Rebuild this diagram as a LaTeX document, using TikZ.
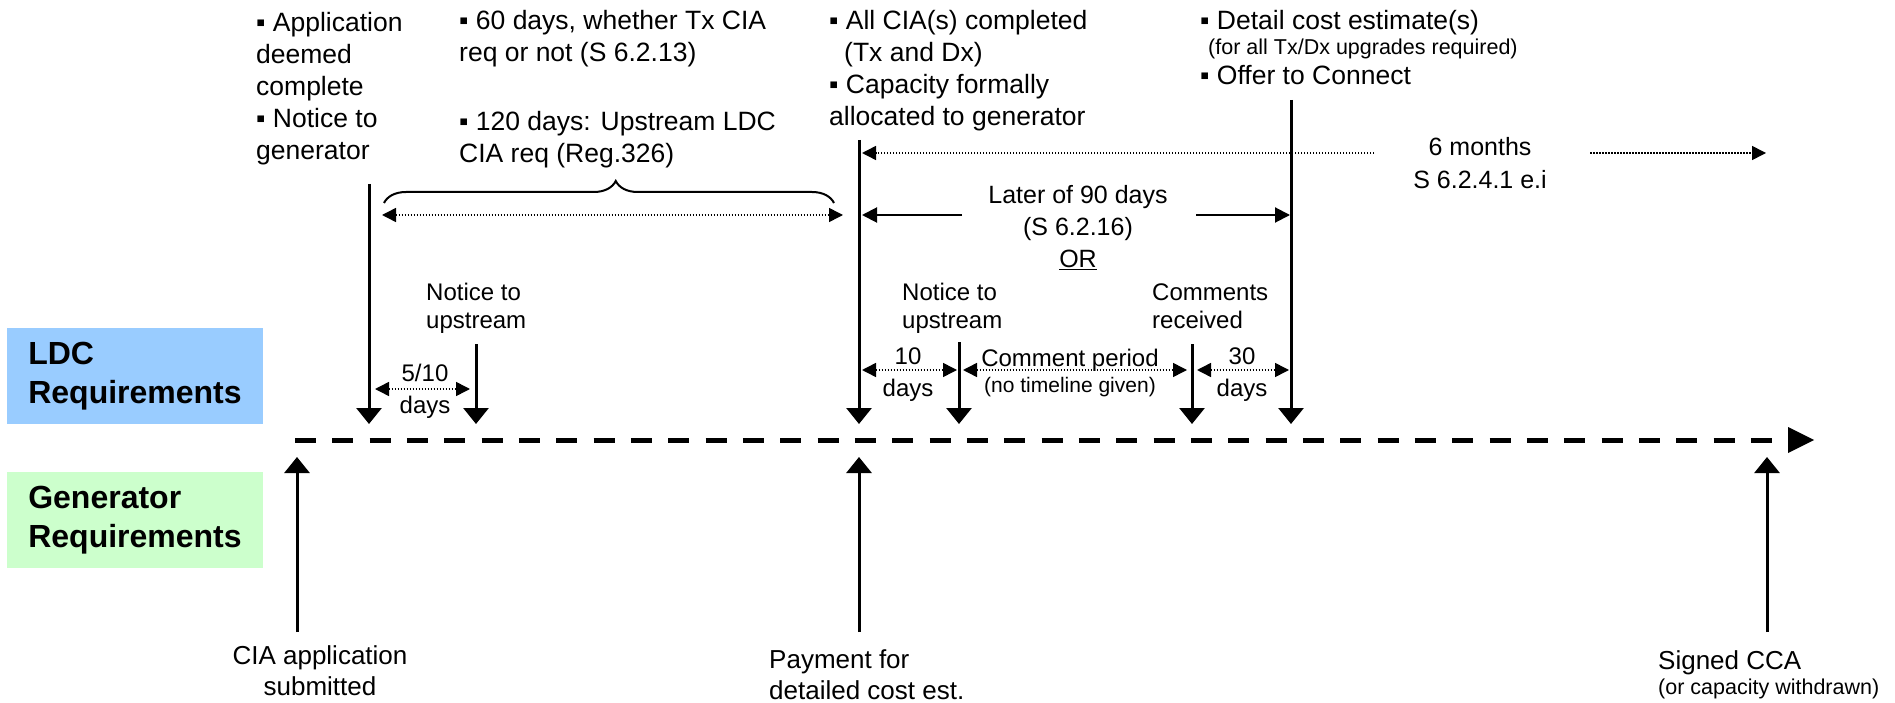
\documentclass[tikz,border=0pt]{standalone}
\usepackage{fontspec}
\setmainfont{Liberation Sans}
\usetikzlibrary{arrows.meta,decorations.pathreplacing}
\definecolor{ldcblue}{HTML}{99CCFF}
\definecolor{gengreen}{HTML}{CCFFCC}
\tikzset{
  toptext/.style={font=\fontsize{26.5}{32}\selectfont, align=left, inner sep=0pt, anchor=base west},
  smalltext/.style={font=\fontsize{21.5}{24}\selectfont, inner sep=0pt, anchor=base west},
  lowtext/.style={font=\fontsize{24}{28}\selectfont, align=left, inner sep=0pt, anchor=base west},
  dimtext/.style={font=\fontsize{24}{32}\selectfont, align=center, inner sep=0pt, anchor=base},
  midtext/.style={font=\fontsize{25}{32}\selectfont, align=center, inner sep=0pt, anchor=base},
  bottext/.style={font=\fontsize{26}{31}\selectfont, inner sep=0pt},
  sidebox/.style={minimum width=256pt, minimum height=96pt, inner sep=0pt, align=left, font=\fontsize{32}{39}\selectfont\bfseries},
  markarr/.style={line width=3pt, -{Triangle[length=16pt,width=25pt]}},
  dimarr/.style={line width=1.5pt, dash pattern=on 1.5pt off 1.5pt, {Triangle[length=14pt,width=14pt]}-{Triangle[length=14pt,width=14pt]}},
  dotarr/.style={line width=1.5pt, dash pattern=on 1.5pt off 1.5pt, -{Triangle[length=14pt,width=14pt]}},
  solidarr/.style={line width=2pt, -{Triangle[length=15pt,width=15pt]}},
  timeline/.style={line width=5pt, dash pattern=on 21pt off 16.33pt},
  bracestyle/.style={line width=2pt, decorate, decoration={brace, amplitude=22pt, aspect=0.515}},
}
\begin{document}
\begin{tikzpicture}[x=1pt,y=-1pt]
\useasboundingbox (0,0) rectangle (1895,703);

% side boxes
\node[sidebox, fill=ldcblue] (ldcbox) at (135,376) {LDC\\Requirements};
\node[sidebox, fill=gengreen] (genbox) at (135,520) {Generator\\Requirements};

% timeline
\coordinate (tl0) at (295,440);
\coordinate (tl1) at (1772,440);
\draw[timeline] (tl0) -- (tl1);
\fill (1788,427) -- (1814,440) -- (1788,453) -- cycle;

% LDC markers (down arrows)
\coordinate (v1t) at (369,184);  \coordinate (v1b) at (369,424);
\coordinate (v2t) at (476,344);  \coordinate (v2b) at (476,424);
\coordinate (v3t) at (859,140);  \coordinate (v3b) at (859,424);
\coordinate (v5t) at (959,342);  \coordinate (v5b) at (959,424);
\coordinate (v6t) at (1192,344); \coordinate (v6b) at (1192,424);
\coordinate (v4t) at (1291,100); \coordinate (v4b) at (1291,424);
\draw[markarr] (v1t) -- (v1b);
\draw[markarr] (v2t) -- (v2b);
\draw[markarr] (v3t) -- (v3b);
\draw[markarr] (v5t) -- (v5b);
\draw[markarr] (v6t) -- (v6b);
\draw[markarr] (v4t) -- (v4b);

% Generator markers (up arrows)
\coordinate (u1b) at (297,632);  \coordinate (u1t) at (297,457);
\coordinate (u2b) at (859,632);  \coordinate (u2t) at (859,457);
\coordinate (u3b) at (1767,632); \coordinate (u3t) at (1767,457);
\draw[markarr] (u1b) -- (u1t);
\draw[markarr] (u2b) -- (u2t);
\draw[markarr] (u3b) -- (u3t);

% top texts (base anchor = baseline of last line)
\node[toptext] (t1) at (256,160) {▪ Application\\deemed\\complete\\▪ Notice to\\generator};
\node[toptext] (t2) at (459,62) {▪ 60 days, whether Tx CIA\\req or not (S 6.2.13)};
\node[toptext] (t3) at (459,163) {▪ 120 days: Upstream LDC\\CIA req (Reg.326)};
\node[toptext] (t4) at (829,125.5) {▪ All CIA(s) completed\\\hspace*{15pt}(Tx and Dx)\\▪ Capacity formally\\allocated to generator};
\node[toptext] (t5a) at (1200,29.5) {▪ Detail cost estimate(s)};
\node[smalltext] (t5b) at (1208,55) {(for all Tx/Dx upgrades required)};
\node[toptext] (t5c) at (1200,85) {▪ Offer to Connect};

% brace and 60/120-day span
\coordinate (brL) at (384,203);
\coordinate (brR) at (834,203);
\draw[bracestyle] (brL) -- (brR);
\coordinate (s1L) at (382,215);
\coordinate (s1R) at (843,215);
\draw[dimarr] (s1L) -- (s1R);

% 6 months span
\node[midtext, font=\fontsize{25}{33}\selectfont] (sixm) at (1480,189) {6 months\\S 6.2.4.1 e.i};
\coordinate (m6L) at (862,153);
\coordinate (m6a) at (1374,153);
\coordinate (m6b) at (1590,153);
\coordinate (m6R) at (1766,153);
\draw[dotarr] (m6a) -- (m6L);
\draw[dotarr] (m6b) -- (m6R);

% later of 90 days
\node[midtext] (later) at (1078,268) {Later of 90 days\\(S 6.2.16)\\\underline{OR}};
\coordinate (lL) at (862,215);
\coordinate (la) at (962,215);
\coordinate (lb) at (1196,215);
\coordinate (lR) at (1290,215);
\draw[solidarr] (la) -- (lL);
\draw[solidarr] (lb) -- (lR);

% lower LDC labels
\node[lowtext] (n1) at (426,328.5) {Notice to\\upstream};
\node[lowtext] (n2) at (902,328.5) {Notice to\\upstream};
\node[lowtext] (n3) at (1152,328.5) {Comments\\received};

% short spans
\node[dimtext] (d1) at (425,413.5) {5/10\\days};
\coordinate (d1L) at (375,389); \coordinate (d1R) at (470,389);
\draw[dimarr] (d1L) -- (d1R);

\node[dimtext] (d2) at (908,396.5) {10\\days};
\coordinate (d2L) at (862,370); \coordinate (d2R) at (957,370);
\draw[dimarr] (d2L) -- (d2R);

\node[font=\fontsize{24}{28}\selectfont, inner sep=0pt, anchor=base] (cp) at (1070,366) {Comment period};
\node[font=\fontsize{21}{24}\selectfont, inner sep=0pt, anchor=base] (cpn) at (1070,392) {(no timeline given)};
\coordinate (d3L) at (963,370); \coordinate (d3R) at (1187,370);
\draw[dimarr] (d3L) -- (d3R);

\node[dimtext] (d4) at (1242,396.5) {30\\days};
\coordinate (d4L) at (1197,370); \coordinate (d4R) at (1289,370);
\draw[dimarr] (d4L) -- (d4R);

% bottom labels
\node[bottext, align=center, anchor=base] (b1) at (320,695) {CIA application\\submitted};
\node[bottext, align=left, anchor=base west] (b2) at (769,699) {Payment for\\detailed cost est.};
\node[bottext, anchor=base west] (b3) at (1658,669) {Signed CCA};
\node[smalltext] (b3s) at (1658,694) {(or capacity withdrawn)};
\end{tikzpicture}
\end{document}
